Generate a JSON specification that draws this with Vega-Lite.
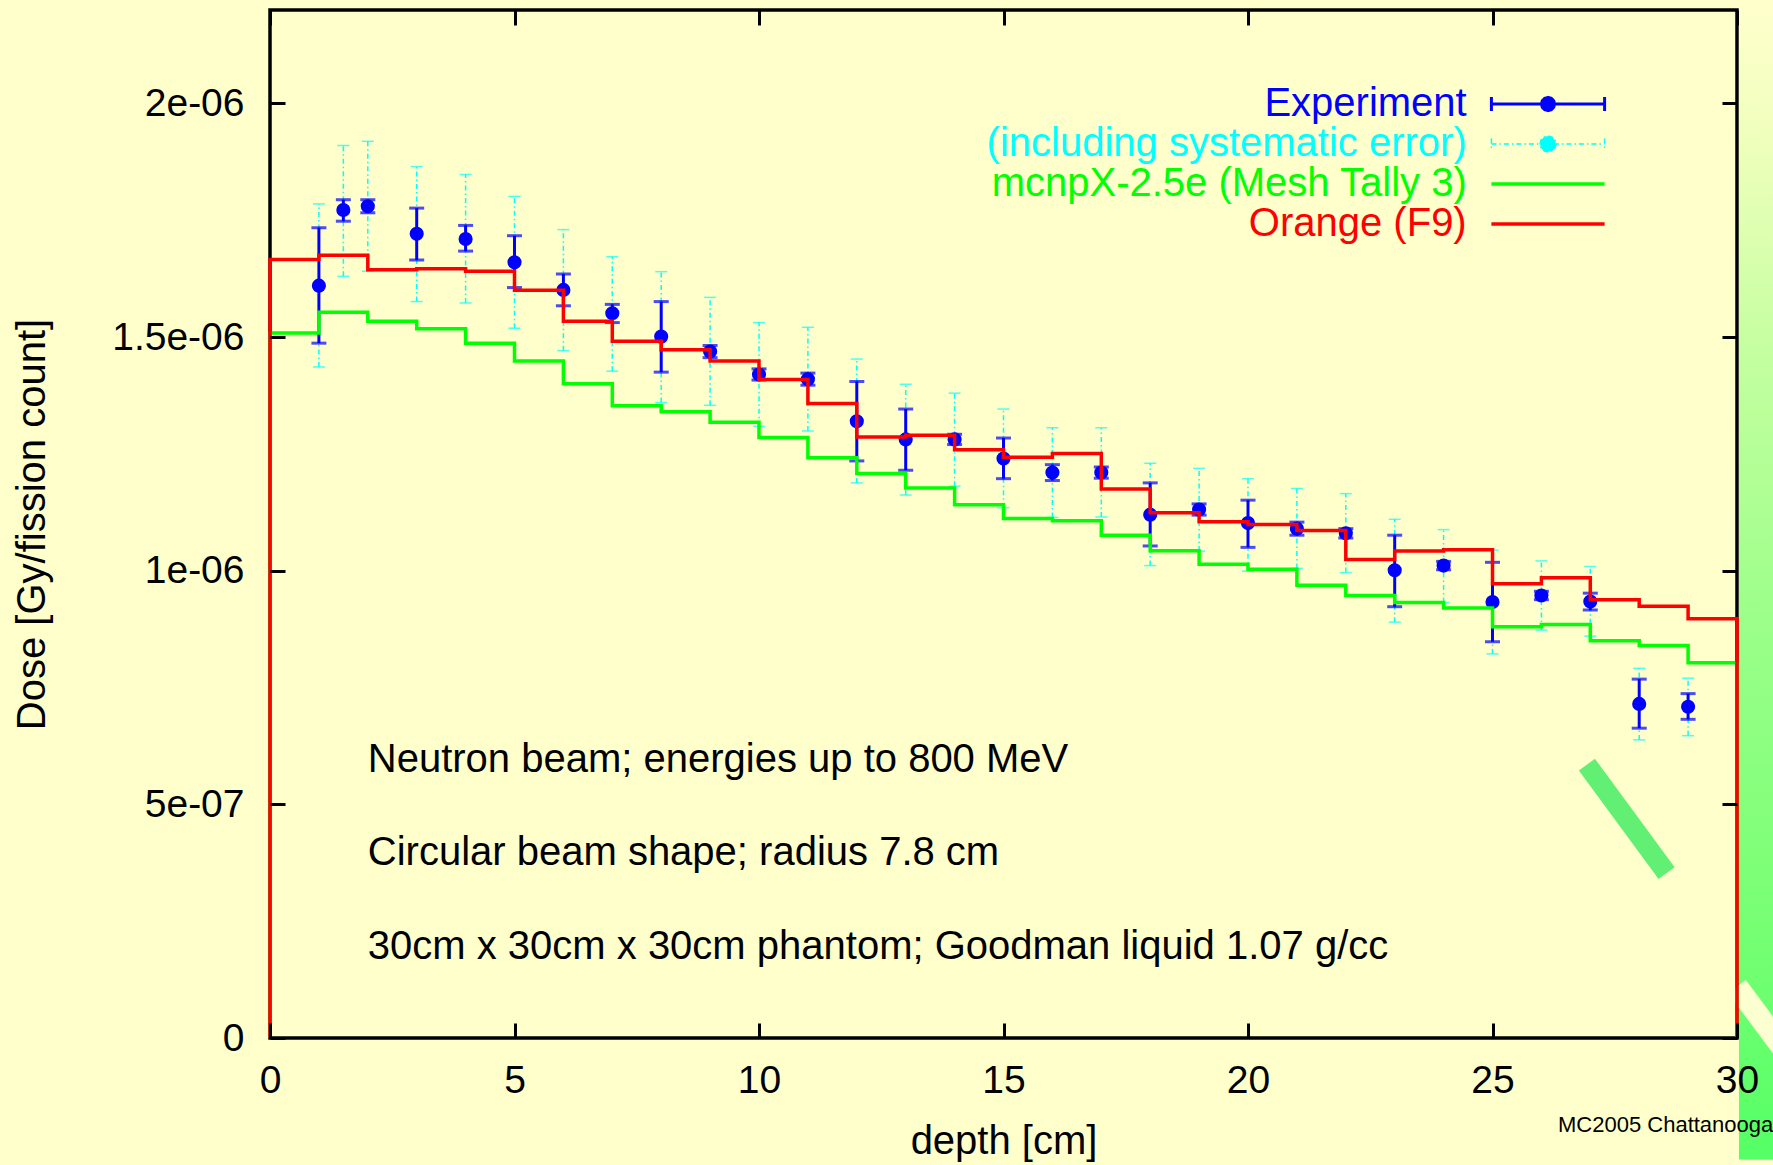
{
  "$schema": "https://vega.github.io/schema/vega-lite/v6.json",
  "width": 1467,
  "height": 1028,
  "autosize": {"type": "none"},
  "padding": {"left": 270, "top": 10, "right": 36, "bottom": 127},
  "background": "#FFFFCC",
  "title": {"text": "MC2005 Chattanooga", "orient": "bottom", "anchor": "end", "frame": "group", "align": "left", "baseline": "alphabetic", "dx": -179, "dy": -29, "offset": 0, "fontSize": 22, "font": "Liberation Sans", "fontWeight": "normal", "color": "black"},
  "config": {
    "font": "Liberation Sans",
    "view": {"stroke": "black", "strokeWidth": 3.5, "fill": null}
  },
  "datasets": {
    "exp": [
      {"depth": 1, "dose": 1.610e-6, "stat_lo": 1.487e-6, "stat_hi": 1.734e-6, "sys_lo": 1.436e-6, "sys_hi": 1.785e-6},
      {"depth": 1.5, "dose": 1.772e-6, "stat_lo": 1.748e-6, "stat_hi": 1.794e-6, "sys_lo": 1.630e-6, "sys_hi": 1.910e-6},
      {"depth": 2, "dose": 1.780e-6, "stat_lo": 1.766e-6, "stat_hi": 1.794e-6, "sys_lo": 1.641e-6, "sys_hi": 1.919e-6},
      {"depth": 3, "dose": 1.721e-6, "stat_lo": 1.665e-6, "stat_hi": 1.776e-6, "sys_lo": 1.576e-6, "sys_hi": 1.865e-6},
      {"depth": 4, "dose": 1.710e-6, "stat_lo": 1.684e-6, "stat_hi": 1.739e-6, "sys_lo": 1.573e-6, "sys_hi": 1.848e-6},
      {"depth": 5, "dose": 1.660e-6, "stat_lo": 1.606e-6, "stat_hi": 1.717e-6, "sys_lo": 1.519e-6, "sys_hi": 1.801e-6},
      {"depth": 6, "dose": 1.601e-6, "stat_lo": 1.567e-6, "stat_hi": 1.635e-6, "sys_lo": 1.471e-6, "sys_hi": 1.730e-6},
      {"depth": 7, "dose": 1.551e-6, "stat_lo": 1.531e-6, "stat_hi": 1.570e-6, "sys_lo": 1.427e-6, "sys_hi": 1.672e-6},
      {"depth": 8, "dose": 1.501e-6, "stat_lo": 1.425e-6, "stat_hi": 1.576e-6, "sys_lo": 1.360e-6, "sys_hi": 1.640e-6},
      {"depth": 9, "dose": 1.469e-6, "stat_lo": 1.456e-6, "stat_hi": 1.482e-6, "sys_lo": 1.354e-6, "sys_hi": 1.585e-6},
      {"depth": 10, "dose": 1.420e-6, "stat_lo": 1.408e-6, "stat_hi": 1.432e-6, "sys_lo": 1.309e-6, "sys_hi": 1.531e-6},
      {"depth": 11, "dose": 1.410e-6, "stat_lo": 1.397e-6, "stat_hi": 1.423e-6, "sys_lo": 1.299e-6, "sys_hi": 1.521e-6},
      {"depth": 12, "dose": 1.320e-6, "stat_lo": 1.235e-6, "stat_hi": 1.405e-6, "sys_lo": 1.188e-6, "sys_hi": 1.453e-6},
      {"depth": 13, "dose": 1.281e-6, "stat_lo": 1.215e-6, "stat_hi": 1.346e-6, "sys_lo": 1.162e-6, "sys_hi": 1.399e-6},
      {"depth": 14, "dose": 1.281e-6, "stat_lo": 1.270e-6, "stat_hi": 1.292e-6, "sys_lo": 1.181e-6, "sys_hi": 1.380e-6},
      {"depth": 15, "dose": 1.240e-6, "stat_lo": 1.197e-6, "stat_hi": 1.284e-6, "sys_lo": 1.135e-6, "sys_hi": 1.346e-6},
      {"depth": 16, "dose": 1.210e-6, "stat_lo": 1.193e-6, "stat_hi": 1.227e-6, "sys_lo": 1.114e-6, "sys_hi": 1.306e-6},
      {"depth": 17, "dose": 1.210e-6, "stat_lo": 1.198e-6, "stat_hi": 1.222e-6, "sys_lo": 1.115e-6, "sys_hi": 1.306e-6},
      {"depth": 18, "dose": 1.120e-6, "stat_lo": 1.053e-6, "stat_hi": 1.188e-6, "sys_lo": 1.011e-6, "sys_hi": 1.230e-6},
      {"depth": 19, "dose": 1.131e-6, "stat_lo": 1.119e-6, "stat_hi": 1.143e-6, "sys_lo": 1.042e-6, "sys_hi": 1.219e-6},
      {"depth": 20, "dose": 1.102e-6, "stat_lo": 1.050e-6, "stat_hi": 1.151e-6, "sys_lo": 0.999e-6, "sys_hi": 1.197e-6},
      {"depth": 21, "dose": 1.090e-6, "stat_lo": 1.076e-6, "stat_hi": 1.104e-6, "sys_lo": 1.005e-6, "sys_hi": 1.176e-6},
      {"depth": 22, "dose": 1.080e-6, "stat_lo": 1.070e-6, "stat_hi": 1.090e-6, "sys_lo": 0.996e-6, "sys_hi": 1.165e-6},
      {"depth": 23, "dose": 1.001e-6, "stat_lo": 0.923e-6, "stat_hi": 1.076e-6, "sys_lo": 0.890e-6, "sys_hi": 1.110e-6},
      {"depth": 24, "dose": 1.011e-6, "stat_lo": 1.002e-6, "stat_hi": 1.020e-6, "sys_lo": 0.932e-6, "sys_hi": 1.088e-6},
      {"depth": 25, "dose": 0.933e-6, "stat_lo": 0.848e-6, "stat_hi": 1.018e-6, "sys_lo": 0.822e-6, "sys_hi": 1.044e-6},
      {"depth": 26, "dose": 0.947e-6, "stat_lo": 0.938e-6, "stat_hi": 0.956e-6, "sys_lo": 0.873e-6, "sys_hi": 1.021e-6},
      {"depth": 27, "dose": 0.934e-6, "stat_lo": 0.916e-6, "stat_hi": 0.952e-6, "sys_lo": 0.860e-6, "sys_hi": 1.009e-6},
      {"depth": 28, "dose": 0.715e-6, "stat_lo": 0.663e-6, "stat_hi": 0.768e-6, "sys_lo": 0.638e-6, "sys_hi": 0.791e-6},
      {"depth": 29, "dose": 0.709e-6, "stat_lo": 0.682e-6, "stat_hi": 0.737e-6, "sys_lo": 0.647e-6, "sys_hi": 0.770e-6}
    ],
    "mcnp": [
      {"depth": 0, "dose": 0},
      {"depth": 0, "dose": 1.509e-6}, {"depth": 1, "dose": 1.553e-6}, {"depth": 2, "dose": 1.534e-6}, {"depth": 3, "dose": 1.518e-6},
      {"depth": 4, "dose": 1.487e-6}, {"depth": 5, "dose": 1.449e-6}, {"depth": 6, "dose": 1.400e-6}, {"depth": 7, "dose": 1.353e-6},
      {"depth": 8, "dose": 1.340e-6}, {"depth": 9, "dose": 1.318e-6}, {"depth": 10, "dose": 1.285e-6}, {"depth": 11, "dose": 1.242e-6},
      {"depth": 12, "dose": 1.208e-6}, {"depth": 13, "dose": 1.177e-6}, {"depth": 14, "dose": 1.141e-6}, {"depth": 15, "dose": 1.112e-6},
      {"depth": 16, "dose": 1.107e-6}, {"depth": 17, "dose": 1.076e-6}, {"depth": 18, "dose": 1.043e-6}, {"depth": 19, "dose": 1.014e-6},
      {"depth": 20, "dose": 1.003e-6}, {"depth": 21, "dose": 0.969e-6}, {"depth": 22, "dose": 0.947e-6}, {"depth": 23, "dose": 0.932e-6},
      {"depth": 24, "dose": 0.920e-6}, {"depth": 25, "dose": 0.880e-6}, {"depth": 26, "dose": 0.885e-6}, {"depth": 27, "dose": 0.850e-6},
      {"depth": 28, "dose": 0.840e-6}, {"depth": 29, "dose": 0.803e-6}, {"depth": 30, "dose": 0.803e-6},
      {"depth": 30, "dose": 0}
    ],
    "orange": [
      {"depth": 0, "dose": 0},
      {"depth": 0, "dose": 1.666e-6}, {"depth": 1, "dose": 1.675e-6}, {"depth": 2, "dose": 1.644e-6}, {"depth": 3, "dose": 1.646e-6},
      {"depth": 4, "dose": 1.641e-6}, {"depth": 5, "dose": 1.600e-6}, {"depth": 6, "dose": 1.534e-6}, {"depth": 7, "dose": 1.491e-6},
      {"depth": 8, "dose": 1.473e-6}, {"depth": 9, "dose": 1.449e-6}, {"depth": 10, "dose": 1.409e-6}, {"depth": 11, "dose": 1.358e-6},
      {"depth": 12, "dose": 1.286e-6}, {"depth": 13, "dose": 1.290e-6}, {"depth": 14, "dose": 1.259e-6}, {"depth": 15, "dose": 1.243e-6},
      {"depth": 16, "dose": 1.251e-6}, {"depth": 17, "dose": 1.175e-6}, {"depth": 18, "dose": 1.124e-6}, {"depth": 19, "dose": 1.105e-6},
      {"depth": 20, "dose": 1.099e-6}, {"depth": 21, "dose": 1.086e-6}, {"depth": 22, "dose": 1.024e-6}, {"depth": 23, "dose": 1.042e-6},
      {"depth": 24, "dose": 1.045e-6}, {"depth": 25, "dose": 0.972e-6}, {"depth": 26, "dose": 0.985e-6}, {"depth": 27, "dose": 0.938e-6},
      {"depth": 28, "dose": 0.924e-6}, {"depth": 29, "dose": 0.897e-6}, {"depth": 30, "dose": 0.897e-6},
      {"depth": 30, "dose": 0}
    ],
    "notes": [
      {"depth": 2, "dose": 0.57e-6, "note": "Neutron beam; energies up to 800 MeV"},
      {"depth": 2, "dose": 0.37e-6, "note": "Circular beam shape; radius 7.8 cm"},
      {"depth": 2, "dose": 0.17e-6, "note": "30cm x 30cm x 30cm phantom; Goodman liquid 1.07 g/cc"}
    ]
  },
  "layer": [
    {
      "data": {"values": [{}]},
      "mark": {"type": "rect", "clip": false,
        "fill": {"gradient": "linear", "x1": 0, "y1": 0, "x2": 0, "y2": 1,
          "stops": [{"offset": 0, "color": "#FFFFCC"}, {"offset": 0.12, "color": "#EEFFBB"}, {"offset": 0.3, "color": "#C4FFA0"}, {"offset": 0.55, "color": "#99FF88"}, {"offset": 0.8, "color": "#77FF74"}, {"offset": 1, "color": "#55FF66"}]}},
      "encoding": {
        "x": {"datum": 30.04, "type": "quantitative", "axis": null},
        "x2": {"datum": 31.2},
        "y": {"datum": 2.2e-6, "type": "quantitative", "axis": null},
        "y2": {"datum": -0.26e-6}
      }
    },
    {
      "data": {"values": [{}]},
      "mark": {"type": "rule", "clip": false, "strokeWidth": 22, "color": "#FCFFD0", "strokeCap": "butt"},
      "encoding": {
        "x": {"datum": 30.0, "type": "quantitative", "axis": null},
        "x2": {"datum": 31.1},
        "y": {"datum": 0.11e-6, "type": "quantitative", "axis": null},
        "y2": {"datum": -0.045e-6}
      }
    },
    {
      "data": {"values": [{}]},
      "mark": {"type": "rule", "strokeWidth": 20, "color": "#62F074", "strokeCap": "butt"},
      "encoding": {
        "x": {"datum": 26.93, "type": "quantitative", "axis": null},
        "x2": {"datum": 28.56},
        "y": {"datum": 0.585e-6, "type": "quantitative", "axis": null},
        "y2": {"datum": 0.353e-6}
      }
    },
    {
      "data": {"name": "exp"},
      "mark": {"type": "errorbar", "thickness": 1.5, "ticks": {"size": 12}, "rule": {"strokeDash": [5, 3, 1.5, 3]}},
      "encoding": {
        "x": {"field": "depth", "type": "quantitative", "scale": {"domain": [0, 30], "nice": false, "zero": false},
          "axis": {"orient": "bottom", "values": [0, 5, 10, 15, 20, 25, 30], "format": "d", "domain": false, "grid": false, "zindex": 1,
            "tickSize": -15, "tickWidth": 3, "tickColor": "black", "labelPadding": 38, "labelFontSize": 39, "labelColor": "black",
            "labelFont": "Liberation Sans", "labelFlush": false, "labelOverlap": false, "labelBaseline": "top",
            "title": "depth [cm]", "titleFontSize": 40, "titleFontWeight": "normal", "titleColor": "black", "titleFont": "Liberation Sans",
            "titleX": 733.5, "titleY": 115, "titleBaseline": "alphabetic", "titleAlign": "center"}},
        "y": {"field": "sys_lo", "type": "quantitative", "scale": {"domain": [0, 2.2e-6], "nice": false, "zero": false},
          "axis": {"orient": "left", "values": [0, 5e-7, 1e-6, 1.5e-6, 2e-6], "zindex": 1,
            "labelExpr": "datum.value < 1e-7 ? '0' : datum.value < 7e-7 ? '5e-07' : datum.value < 1.2e-6 ? '1e-06' : datum.value < 1.7e-6 ? '1.5e-06' : '2e-06'",
            "domain": false, "grid": false, "tickSize": -15, "tickWidth": 3, "tickColor": "black", "labelPadding": 41,
            "labelFontSize": 39, "labelColor": "black", "labelFont": "Liberation Sans", "labelFlush": false, "labelOverlap": false,
            "title": "Dose [Gy/fission count]", "titleFontSize": 40, "titleFontWeight": "normal", "titleColor": "black", "titleFont": "Liberation Sans",
            "titleX": -226, "titleY": 514, "titleAngle": 270, "titleBaseline": "alphabetic", "titleAlign": "center"}},
        "y2": {"field": "sys_hi"},
        "color": {"datum": "(including systematic error)", "type": "nominal",
          "scale": {"domain": ["Experiment", "(including systematic error)", "mcnpX-2.5e (Mesh Tally 3)", "Orange (F9)"], "range": ["#0000FF", "#00FFFF", "#00FF00", "#FF0000"]},
          "legend": {"orient": "none", "legendX": 1258, "legendY": 74, "direction": "vertical", "title": null, "padding": 0, "offset": 0,
            "symbolSize": 1600, "symbolStrokeWidth": 3, "labelFontSize": 40, "labelFont": "Liberation Sans", "labelAlign": "right",
            "labelBaseline": "middle", "labelOffset": -101.3, "labelLimit": 2000, "rowPadding": 0,
            "encode": {
              "labels": {"update": {"fill": {"scale": "color", "field": "value"}}},
              "symbols": {"update": {
                "shape": {"signal": "datum.value === 'Experiment' ? 'M-2.83,0H2.83M-2.83,-0.35V0.35M2.83,-0.35V0.35M0.33,0L0.286,0.165L0.165,0.286L0,0.33L-0.165,0.286L-0.286,0.165L-0.33,0L-0.286,-0.165L-0.165,-0.286L0,-0.33L0.165,-0.286L0.286,-0.165Z' : datum.value === '(including systematic error)' ? 'M-2.83,0H2.83M-2.83,-0.28V0.28M2.83,-0.28V0.28M0.4,0L0.346,0.2L0.2,0.346L0,0.4L-0.2,0.346L-0.346,0.2L-0.4,0L-0.346,-0.2L-0.2,-0.346L0,-0.4L0.2,-0.346L0.346,-0.2Z' : 'M-2.83,0H2.83'"},
                "fill": {"signal": "datum.value === 'Experiment' ? '#0000FF' : datum.value === '(including systematic error)' ? '#00FFFF' : 'transparent'"},
                "stroke": {"scale": "color", "field": "value"},
                "strokeWidth": {"signal": "datum.value === '(including systematic error)' ? 1.5 : datum.value === 'Experiment' ? 3 : 3.5"},
                "strokeDash": {"signal": "datum.value === '(including systematic error)' ? [5, 3, 1.5, 3] : [1, 0]"},
                "size": {"value": 1600},
                "opacity": {"value": 1}
              }}
            }}}
      }
    },
    {
      "data": {"name": "exp"},
      "mark": {"type": "errorbar", "thickness": 3, "ticks": {"size": 15}},
      "encoding": {
        "x": {"field": "depth", "type": "quantitative",
          "axis": {"orient": "top", "values": [0, 5, 10, 15, 20, 25, 30], "labels": false, "domain": false, "grid": false, "zindex": 1,
            "tickSize": -15, "tickWidth": 3, "tickColor": "black", "title": null}},
        "y": {"field": "stat_lo", "type": "quantitative",
          "axis": {"orient": "right", "values": [0, 5e-7, 1e-6, 1.5e-6, 2e-6], "labels": false, "domain": false, "grid": false, "zindex": 1,
            "tickSize": -15, "tickWidth": 3, "tickColor": "black", "title": null}},
        "y2": {"field": "stat_hi"},
        "color": {"datum": "Experiment", "type": "nominal"}
      }
    },
    {
      "data": {"name": "exp"},
      "mark": {"type": "point", "filled": true, "size": 200, "opacity": 1, "shape": "circle"},
      "encoding": {
        "x": {"field": "depth", "type": "quantitative", "axis": null},
        "y": {"field": "dose", "type": "quantitative", "axis": null},
        "color": {"datum": "Experiment", "type": "nominal"}
      }
    },
    {
      "data": {"name": "mcnp"},
      "mark": {"type": "line", "interpolate": "step-after", "strokeWidth": 3.5},
      "encoding": {
        "x": {"field": "depth", "type": "quantitative", "axis": null},
        "y": {"field": "dose", "type": "quantitative", "axis": null},
        "order": {"value": null},
        "color": {"datum": "mcnpX-2.5e (Mesh Tally 3)", "type": "nominal"}
      }
    },
    {
      "data": {"name": "orange"},
      "mark": {"type": "line", "interpolate": "step-after", "strokeWidth": 3.5},
      "encoding": {
        "x": {"field": "depth", "type": "quantitative", "axis": null},
        "y": {"field": "dose", "type": "quantitative", "axis": null},
        "order": {"value": null},
        "color": {"datum": "Orange (F9)", "type": "nominal"}
      }
    },
    {
      "data": {"name": "notes"},
      "mark": {"type": "text", "align": "left", "baseline": "alphabetic", "fontSize": 40, "font": "Liberation Sans", "color": "black"},
      "encoding": {
        "x": {"field": "depth", "type": "quantitative", "axis": null},
        "y": {"field": "dose", "type": "quantitative", "axis": null},
        "text": {"field": "note"}
      }
    }
  ],
  "resolve": {"axis": {"x": "independent", "y": "independent"}}
}
